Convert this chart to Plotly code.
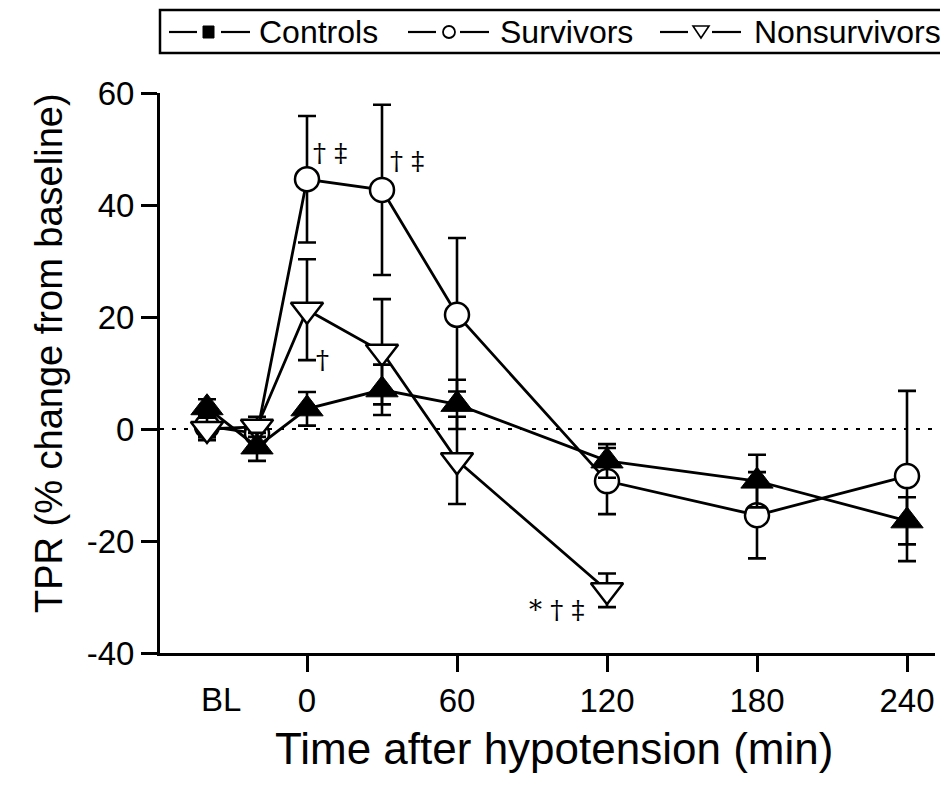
import plotly.graph_objects as go

# time points (BL = two baseline points plotted left of 0)
time_ctrl = [-40, -20, 0, 30, 60, 120, 180, 240]
time_surv = [-40, -20, 0, 30, 60, 120, 180, 240]
time_nons = [-40, -20, 0, 30, 60, 120]

ctrl = [3.8, -3.2, 3.6, 7.0, 4.4, -5.7, -9.3, -16.4]
ctrl_err = [1.5, 2.5, 3.0, 4.5, 4.4, 3.0, 4.7, 4.2]

surv = [0.5, -0.8, 44.6, 42.7, 20.4, -9.3, -15.4, -8.4]
surv_err = [2.0, 2.0, 11.3, 15.2, 13.7, 5.9, 7.7, 15.2]

nons = [0.0, 0.4, 21.3, 13.8, -5.6, -28.8]
nons_err = [2.0, 1.8, 9.0, 9.4, 7.8, 3.0]

x_ticks = [0, 60, 120, 180, 240]
y_ticks = [-40, -20, 0, 20, 40, 60]
legend_names = ["Controls", "Survivors", "Nonsurvivors"]

# significance marks: (x, y, text)
sig_marks = [(9, 49.3, "† ‡"), (40, 47.9, "† ‡"), (6, 12.3, "†"), (100, -32.3, "* † ‡")]

FONT = "Liberation Sans, Arial"
W, H = 948, 787
L, R, T, B = 152, 21, 85, 142
PW, PH = W - L - R, H - T - B


def px(x):
    return (x - L) / PW


def py(y):
    return (H - B - y) / PH


fig = go.Figure()


def err(vals):
    return dict(type="data", array=vals, visible=True, color="black",
                thickness=2.6, width=9)


fig.add_trace(go.Scatter(
    x=time_surv, y=surv, mode="lines+markers", name=legend_names[1],
    line=dict(color="black", width=2.8),
    marker=dict(symbol="circle", size=24, color="white",
                line=dict(color="black", width=2.5)),
    error_y=err(surv_err)
))

fig.add_trace(go.Scatter(
    x=time_nons, y=nons, mode="lines+markers", name=legend_names[2],
    line=dict(color="black", width=2.8),
    marker=dict(symbol="triangle-down", size=28, color="white",
                line=dict(color="black", width=2.5)),
    error_y=err(nons_err)
))

fig.add_trace(go.Scatter(
    x=time_ctrl, y=ctrl, mode="lines+markers", name=legend_names[0],
    line=dict(color="black", width=2.8),
    marker=dict(symbol="triangle-up", size=28, color="black",
                line=dict(color="black", width=1)),
    error_y=err(ctrl_err)
))

# dotted zero reference line
fig.add_shape(type="line", xref="paper", yref="y", x0=0, x1=1.023, y0=0, y1=0,
              line=dict(color="black", width=2, dash="4px,8px"), layer="below")

# boxed legend across the top, drawn as in the original
ly = 24
fig.add_shape(type="rect", xref="paper", yref="paper",
              x0=px(152), x1=px(944), y0=py(45), y1=py(2),
              line=dict(color="black", width=2.5), fillcolor="white")
for x0 in [161, 400, 652]:
    for a, b in [(x0, x0 + 28), (x0 + 52, x0 + 81)]:
        fig.add_shape(type="line", xref="paper", yref="paper",
                      x0=px(a), x1=px(b), y0=py(ly), y1=py(ly),
                      line=dict(color="black", width=2.2))
fig.add_shape(type="rect", xref="paper", yref="paper",
              x0=px(195), x1=px(206), y0=py(ly + 6), y1=py(ly - 6),
              line=dict(color="black", width=1), fillcolor="black")
fig.add_shape(type="circle", xref="paper", yref="paper",
              x0=px(435), x1=px(447), y0=py(ly + 6), y1=py(ly - 6),
              line=dict(color="black", width=1.8), fillcolor="white")
fig.add_shape(type="path", xref="paper", yref="paper",
              path=f"M {px(685)},{py(ly - 6)} L {px(701)},{py(ly - 6)} L {px(693)},{py(ly + 6)} Z",
              line=dict(color="black", width=1.6), fillcolor="white")
for x0, name in zip([249, 490, 744], legend_names):
    fig.add_annotation(x=px(x0), y=py(ly), xref="paper", yref="paper", text=name,
                       showarrow=False, xanchor="left", yanchor="middle",
                       font=dict(size=32, color="black", family=FONT))

for x, y, t in sig_marks:
    fig.add_annotation(x=x, y=y, text=t, showarrow=False,
                       font=dict(size=26, color="black", family="DejaVu Serif"))

fig.add_annotation(x=-34.5, y=0, yref="paper", text="BL", showarrow=False,
                   yanchor="top", yshift=-26,
                   font=dict(size=33, color="black", family=FONT))

# axis titles
fig.add_annotation(x=px(546), y=py(740), xref="paper", yref="paper",
                   text="Time after hypotension (min)", showarrow=False,
                   xanchor="center", yanchor="middle",
                   font=dict(size=44, color="black", family=FONT))
fig.add_annotation(x=px(41), y=py(345), xref="paper", yref="paper",
                   text="TPR (% change from baseline)", showarrow=False, textangle=-90,
                   xanchor="center", yanchor="middle",
                   font=dict(size=38, color="black", family=FONT))

fig.update_layout(
    width=W, height=H,
    margin=dict(l=L, r=R, t=T, b=B, autoexpand=False),
    plot_bgcolor="white", paper_bgcolor="white",
    font=dict(family=FONT, color="black", size=30),
    showlegend=False,
    xaxis=dict(
        range=[-58.8, 251.2], tickvals=x_ticks, ticktext=[str(v) for v in x_ticks],
        showgrid=False, zeroline=False, showline=True, linecolor="black", linewidth=3,
        ticks="outside", ticklen=16, tickwidth=3, tickcolor="black",
        tickfont=dict(size=33)
    ),
    yaxis=dict(
        range=[-40, 60], tickvals=y_ticks, ticktext=[str(v) for v in y_ticks],
        showgrid=False, zeroline=False, showline=True, linecolor="black", linewidth=3,
        ticks="outside", ticklen=16, tickwidth=3, tickcolor="black",
        tickfont=dict(size=33)
    )
)

fig.write_html("out.html")
